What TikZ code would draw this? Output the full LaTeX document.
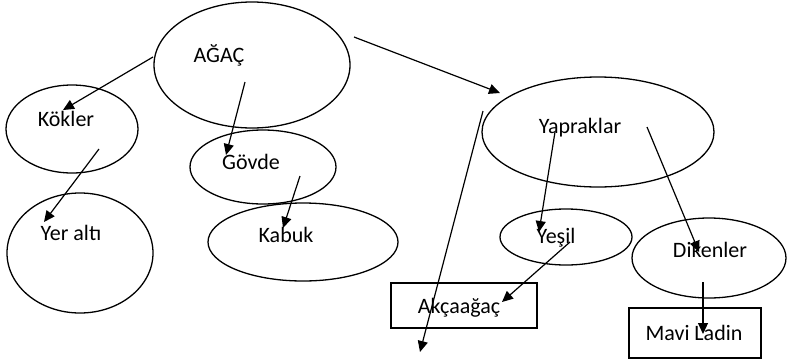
\documentclass[tikz,border=0pt]{standalone}
\usepackage{fontspec}
\setmainfont{Carlito}
\usetikzlibrary{shapes.geometric,arrows.meta}
\begin{document}
\begin{tikzpicture}[x=1pt,y=-1pt,
  oval/.style={draw,ellipse,line width=1.3pt,inner sep=0pt},
  box/.style={draw,rectangle,line width=1.3pt,inner sep=0pt},
  word/.style={inner sep=0pt,font=\fontsize{22}{26}\selectfont},
  link/.style={line width=1.2pt,-{Triangle[length=11pt,width=10pt]}}]
\useasboundingbox (0,0) rectangle (787,362);

% shapes
\node[oval,minimum width=196,minimum height=126] (agac) at (252,65) {};
\node[oval,minimum width=132,minimum height=88]  (kok)  at (72,129) {};
\node[oval,minimum width=146,minimum height=74]  (govde) at (263,167) {};
\node[oval,minimum width=146,minimum height=120] (yer)  at (80,253) {};
\node[oval,minimum width=190,minimum height=78]  (kabuk) at (303,242) {};
\node[oval,minimum width=232,minimum height=110] (yaprak) at (598,132) {};
\node[oval,minimum width=132,minimum height=56]  (yesil) at (566,237) {};
\node[oval,minimum width=154,minimum height=80]  (diken) at (709,258) {};
\node[box,minimum width=146,minimum height=45]   (akca) at (464,305.5) {};
\node[box,minimum width=132,minimum height=50]   (mavi) at (695,333) {};

% labels
\node[word] (agacT)   at (219,55)  {AĞAÇ};
\node[word] (kokT)    at (66,119)  {Kökler};
\node[word] (govdeT)  at (251,162) {Gövde};
\node[word] (yerT)    at (71,233)  {Yer altı};
\node[word] (kabukT)  at (286,235) {Kabuk};
\node[word] (yaprakT) at (580,128) {Yapraklar};
\node[word] (yesilT)  at (556,238) {Yeşil};
\node[word] (dikenT)  at (710,250) {Dikenler};
\node[word] (akcaT)   at (459,308) {Akçaağaç};
\node[word] (maviT)   at (694,333) {Mavi Ladin};

% free end of the long arrow
\coordinate (loose) at (420,352);

% connectors
\draw[link] ([shift={(-99,-8)}]agac.center) -- ([shift={(-9,-19)}]kok.center);
\draw[link] ([shift={(-7,17)}]agac.center) -- ([shift={(-37,-12)}]govde.center);
\draw[link] ([shift={(27,20)}]kok.center) -- ([shift={(-36,-31)}]yer.center);
\draw[link] ([shift={(37,9)}]govde.center) -- ([shift={(-20,-14)}]kabuk.center);
\draw[link] ([shift={(102,-28)}]agac.center) -- ([shift={(-98,-39)}]yaprak.center);
\draw[link] ([shift={(-115,-21)}]yaprak.center) -- (loose);
\draw[link] ([shift={(-43,0)}]yaprak.center) -- ([shift={(-27,-5)}]yesil.center);
\draw[link] ([shift={(49,-5)}]yaprak.center) -- ([shift={(-10,-6)}]diken.center);
\draw[link] ([shift={(4,5)}]yesil.center) -- ([shift={(38,-3.5)}]akca.center);
\draw[link] ([shift={(-6,24)}]diken.center) -- ([shift={(8,1)}]mavi.center);
\end{tikzpicture}
\end{document}
